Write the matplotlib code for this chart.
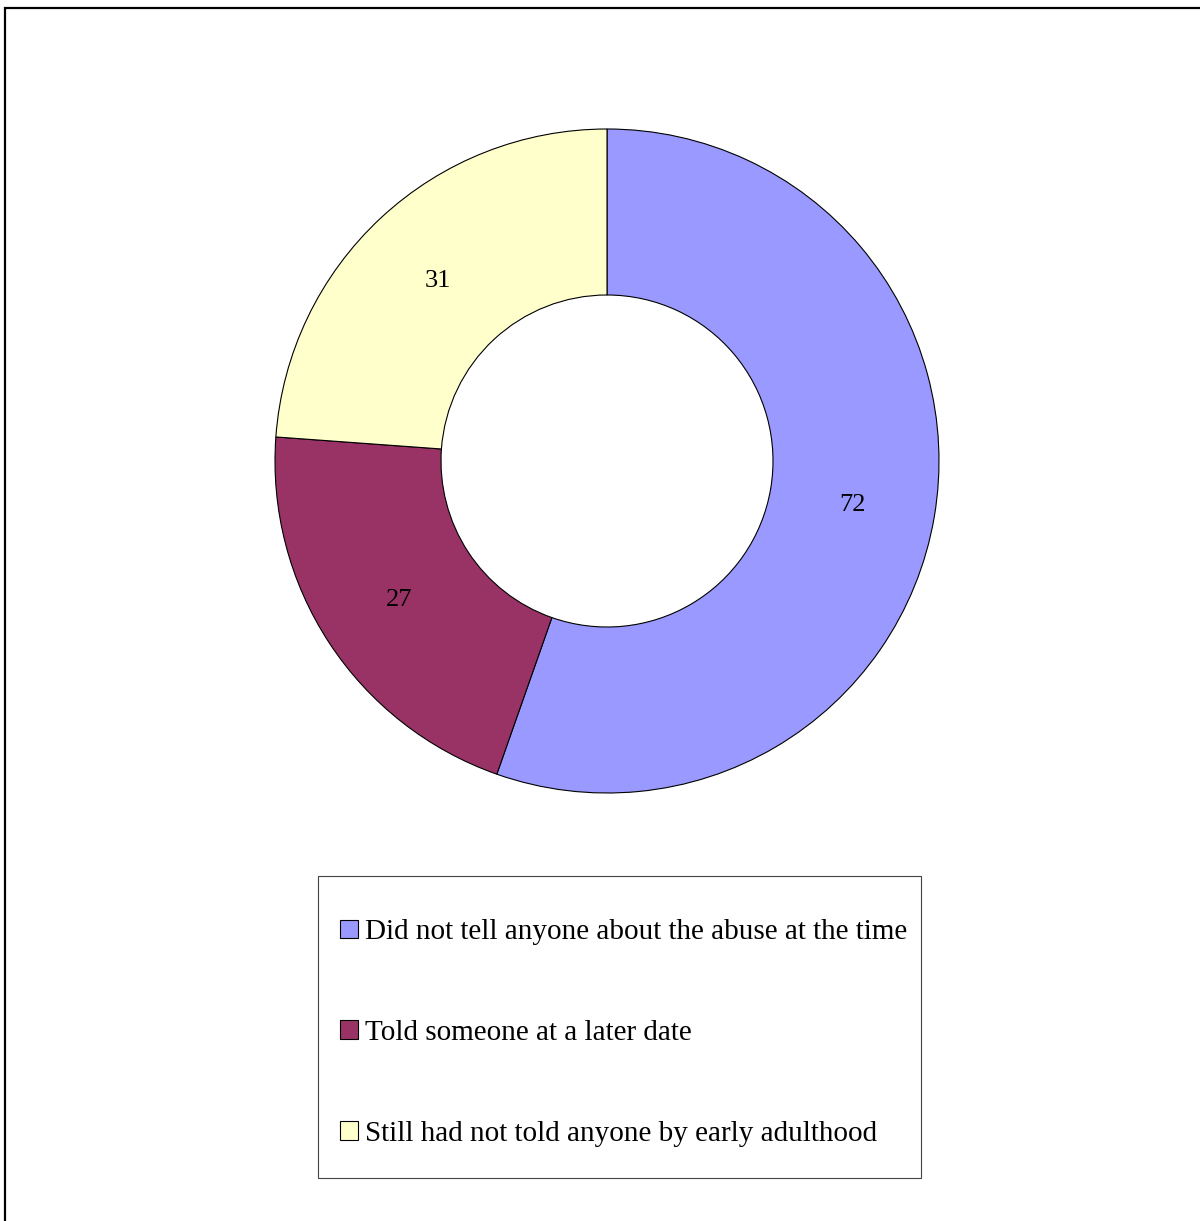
import matplotlib.pyplot as plt
from matplotlib.patches import Rectangle, Patch

categories = ["Did not tell anyone about the abuse at the time",
              "Told someone at a later date",
              "Still had not told anyone by early adulthood"]
counts = [72, 27, 31]
colors = ["#9999FF", "#993366", "#FFFFCC"]

W, H = 1200, 1221
plt.rcParams["font.family"] = ["Liberation Serif", "DejaVu Serif"]

fig = plt.figure(figsize=(W / 100, H / 100), dpi=100)

# outer chart frame (only top and left edges fall inside the image)
fig.patches.append(Rectangle((5 / W, 0 - 0.01), 1.1, 1 - 8 / H + 0.01,
                             transform=fig.transFigure, fill=False,
                             edgecolor="black", linewidth=1.6))

# doughnut
cx, cy, r = 607, 461, 332
ax = fig.add_axes([(cx - r) / W, 1 - (cy + r) / H, 2 * r / W, 2 * r / H])
wedges, texts = ax.pie(counts, colors=colors, startangle=90, counterclock=False,
                       radius=1, labels=[str(c) for c in counts], labeldistance=0.75,
                       wedgeprops=dict(width=0.5, edgecolor="black", linewidth=0.8),
                       textprops=dict(fontsize=19, ha="center", va="center_baseline"))
ax.set_xlim(-1, 1)
ax.set_ylim(-1, 1)
ax.axis("off")

# legend box
fig.patches.append(Rectangle((318 / W, 1 - 1178 / H), (921 - 318) / W, (1178 - 876) / H,
                             transform=fig.transFigure, fill=False,
                             edgecolor="#444444", linewidth=0.8))
handles = [Patch(facecolor=c, edgecolor="black", linewidth=0.8) for c in colors]
fig.legend(handles, categories, loc="center left",
           bbox_to_anchor=(340 / W, 1 - 1033 / H), frameon=False,
           fontsize=21, borderpad=0, borderaxespad=0,
           handlelength=0.6, handleheight=0.6, handletextpad=0.27,
           labelspacing=2.56)

fig.savefig("out.png", dpi=100)
